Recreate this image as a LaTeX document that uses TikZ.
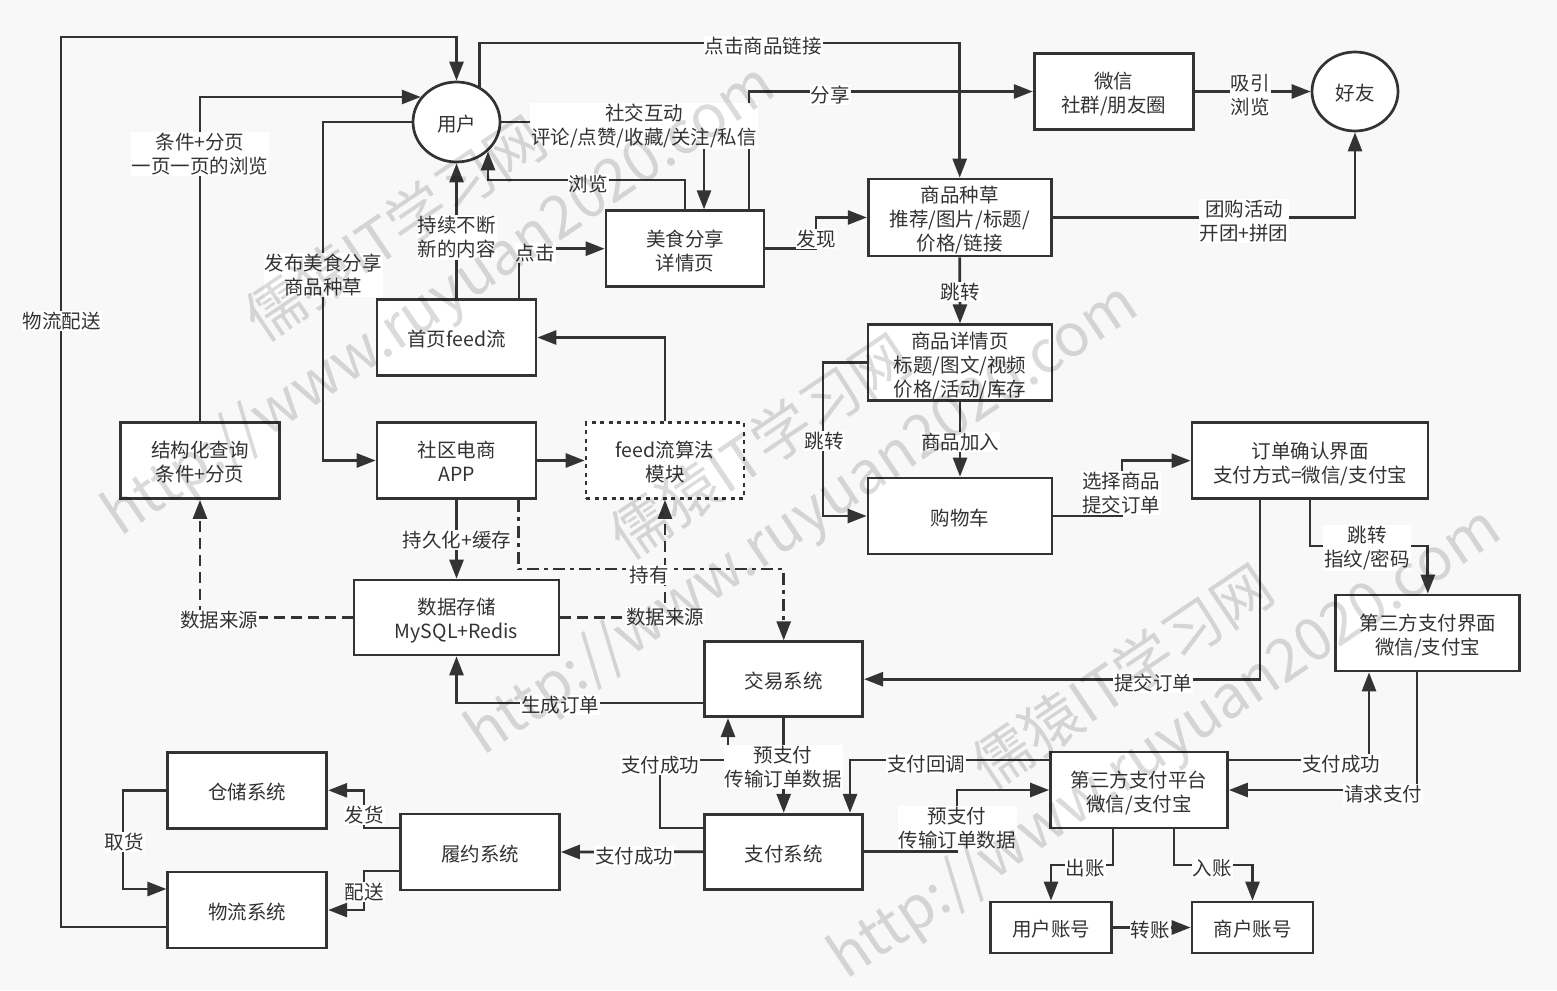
\documentclass[tikz,border=0pt]{standalone}
\usepackage{fontspec}
\setmainfont{Noto Sans CJK SC}
\usetikzlibrary{arrows.meta,shapes.geometric,calc}
\definecolor{lc}{HTML}{333333}
\definecolor{bgc}{HTML}{F8F8F8}
\newcommand\tx[1]{\raisebox{-4.5pt}[\height][\depth]{\begin{tabular}{@{}c@{}}#1\end{tabular}}}
\begin{document}
\begin{tikzpicture}[x=1pt,y=-1pt,
  every node/.style={font=\fontsize{19.5}{24}\selectfont, text=lc},
  box/.style={draw=lc, line width=2.7pt, fill=white, align=center, inner sep=0pt, rectangle},
  ell/.style={ellipse, draw=lc, line width=2.7pt, fill=white, inner sep=0pt},
  conn/.style={draw=lc, line width=2.7pt, -{Triangle[length=19pt,width=14pt]}},
  lab/.style={fill=white, inner sep=1pt, align=center},
  dsh/.style={dash pattern=on 11pt off 6pt},
  dshdot/.style={dash pattern=on 12pt off 5pt on 4pt off 5pt},
  dotbox/.style={dash pattern=on 4pt off 4.5pt},
  wm/.style={text=black, text opacity=0.14, font=\fontsize{59}{66}\selectfont, rotate=34, inner sep=0pt},
]
\fill[bgc] (0,0) rectangle (1557,990);
\useasboundingbox (0,0) rectangle (1557,990);

% nodes
\node[ell, minimum width=87pt, minimum height=80pt] (user) at (456.5,122) {\tx{用户}};
\node[ell, minimum width=86pt, minimum height=79pt] (friend) at (1355,91.5) {\tx{好友}};
\node[box, minimum width=159pt, minimum height=76pt] (wechat) at (1113.7,91.5) {\tx{微信\\社群/朋友圈}};
\node[box, minimum width=183pt, minimum height=77pt] (zc) at (959.7,217.5) {\tx{商品种草\\推荐/图片/标题/\\价格/链接}};
\node[box, minimum width=158pt, minimum height=76pt] (msfx) at (685,248.7) {\tx{美食分享\\详情页}};
\node[box, minimum width=159pt, minimum height=76pt] (feed) at (456.5,337.5) {\tx{首页feed流}};
\node[box, minimum width=184pt, minimum height=76pt] (spxq) at (960,362.8) {\tx{商品详情页\\标题/图文/视频\\价格/活动/库存}};
\node[box, minimum width=159pt, minimum height=76pt] (jgh) at (200,460.5) {\tx{结构化查询\\条件+分页}};
\node[box, minimum width=159pt, minimum height=76pt] (sqds) at (456.5,460.5) {\tx{社区电商\\APP}};
\node[box, dotbox, minimum width=158pt, minimum height=76pt] (algo) at (665,460.5) {\tx{feed流算法\\模块}};
\node[box, minimum width=236pt, minimum height=76pt] (ddqr) at (1310,460.7) {\tx{订单确认界面\\支付方式=微信/支付宝}};
\node[box, minimum width=184pt, minimum height=76pt] (gwc) at (960,516) {\tx{购物车}};
\node[box, minimum width=205pt, minimum height=75pt] (sjcc) at (456.5,617.5) {\tx{数据存储\\MySQL+Redis}};
\node[box, minimum width=184pt, minimum height=76pt] (dsfjm) at (1427.8,633) {\tx{第三方支付界面\\微信/支付宝}};
\node[box, minimum width=158pt, minimum height=75pt] (jy) at (783.7,679.2) {\tx{交易系统}};
\node[box, minimum width=159pt, minimum height=76pt] (cc) at (247.3,790.3) {\tx{仓储系统}};
\node[box, minimum width=177pt, minimum height=76pt] (dsfpt) at (1139,790) {\tx{第三方支付平台\\微信/支付宝}};
\node[box, minimum width=159pt, minimum height=76pt] (ly) at (480,852) {\tx{履约系统}};
\node[box, minimum width=158pt, minimum height=75pt] (zf) at (783.7,851.7) {\tx{支付系统}};
\node[box, minimum width=159pt, minimum height=76pt] (wl) at (247.3,910) {\tx{物流系统}};
\node[box, minimum width=121pt, minimum height=51pt] (yhzh) at (1051,927.5) {\tx{用户账号}};
\node[box, minimum width=121pt, minimum height=51pt] (shzh) at (1252.5,927.5) {\tx{商户账号}};

% connectors
\draw[conn] (wl.west |- 0,927) -- (61,927) -- (61,37) -| (user.north);
\draw[conn] (jgh.north) |- (user.145);
\draw[conn] (user.west) -- (323,122) |- (sqds.west);
\draw[conn] (feed.north) -- (user.south);
\draw[conn] (feed.north -| 519,0) |- (msfx.west);
\draw[conn] (msfx.north -| 685,0) |- (user.-43 |- 0,180) -- (user.-43);
\draw[conn] (user.east) -- (704,122) -- (msfx.north -| 704,0);
\draw[conn] (msfx.north -| 749,0) |- (wechat.west);
\draw[conn] (user.57) -- (user.57 |- 0,43) -| (zc.north);
\draw[conn] (msfx.east) -- (msfx.east -| 816,0) |- (zc.west);
\draw[conn] (wechat.east) -- (friend.west);
\draw[conn] (zc.east) -| (friend.south);
\draw[conn] (zc.south) -- (spxq.north);
\draw[conn] (spxq.south) -- (gwc.north);
\draw[conn] (spxq.west) -- (spxq.west -| 823,0) |- (gwc.west);
\draw[conn] (gwc.east) -- (gwc.east -| 1122,0) |- (ddqr.west);
\draw[conn] (ddqr.south -| 1260,0) |- (jy.east);
\draw[conn] (ddqr.south) -- (1310,546) -| (dsfjm.north);
\draw[conn] (sqds.east) -- (algo.west);
\draw[conn] (algo.north) |- (feed.east);
\draw[conn] (sqds.south) -- (sjcc.north);
\draw[conn, dshdot] (sqds.south -| 518.6,0) -- (518.6,569) -| (jy.north);
\draw[conn, dsh] (sjcc.west) -| (jgh.south);
\draw[conn, dsh] (sjcc.east) -| (algo.south);
\draw[conn] (jy.west |- 0,703) -| (sjcc.south);
\draw[conn] (jy.south) -- (zf.north);
\draw[conn] (zf.west |- 0,828) -- (660,828) |- (728,760) -- (jy.south -| 728,0);
\draw[conn] (dsfpt.west |- 0,760) -| (zf.north -| 850,0);
\draw[conn] (zf.east) -- (zf.east -| 957,0) |- (dsfpt.west);
\draw[conn] (dsfpt.east |- 0,760) -| (dsfjm.south -| 1369,0);
\draw[conn] (dsfjm.south -| 1417,0) |- (dsfpt.east);
\draw[conn] (dsfpt.south -| 1113,0) -- (1113,865) -| (yhzh.north);
\draw[conn] (dsfpt.south -| 1174,0) -- (1174,865) -| (shzh.north);
\draw[conn] (yhzh.east) -- (shzh.west);
\draw[conn] (zf.west) -- (ly.east);
\draw[conn] (ly.west |- 0,828) -- (364,828) |- (cc.east);
\draw[conn] (ly.west |- 0,871) -- (364,871) |- (wl.east);
\draw[conn] (cc.west) -- (cc.west -| 123,0) |- (wl.west |- 0,889);

% labels
\node[lab] (l1) at (62,321) {物流配送};
\node[lab] (l2) at (200,154) {条件+分页\\一页一页的浏览};
\node[lab] (l3) at (323,275) {发布美食分享\\商品种草};
\node[lab] (l4) at (456.5,237.5) {持续不断\\新的内容};
\node[lab] (l5) at (535,253) {点击};
\node[lab] (l6) at (588,184) {浏览};
\node[lab] (l7) at (644,126) {社交互动\\评论/点赞/收藏/关注/私信};
\node[lab] (l8) at (830,95) {分享};
\node[lab] (l9) at (763,46) {点击商品链接};
\node[lab] (l10) at (816,239) {发现};
\node[lab] (l11) at (1250,95) {吸引\\浏览};
\node[lab] (l12) at (1244,221) {团购活动\\开团+拼团};
\node[lab] (l13) at (960,292) {跳转};
\node[lab] (l14) at (960,442) {商品加入};
\node[lab] (l15) at (824,441) {跳转};
\node[lab] (l16) at (1121,493) {选择商品\\提交订单};
\node[lab] (l17) at (1153,683) {提交订单};
\node[lab] (l18) at (1367,548) {跳转\\指纹/密码};
\node[lab] (l21) at (457,540) {持久化+缓存};
\node[lab] (l22) at (649,575) {持有};
\node[lab] (l23) at (219,620) {数据来源};
\node[lab] (l24) at (665,617) {数据来源};
\node[lab] (l25) at (560,705) {生成订单};
\node[lab] (l26) at (783,767) {预支付\\传输订单数据};
\node[lab] (l27) at (660,765) {支付成功};
\node[lab] (l28) at (926,764) {支付回调};
\node[lab] (l29) at (957,828) {预支付\\传输订单数据};
\node[lab] (l30) at (1341,764) {支付成功};
\node[lab] (l31) at (1383,794) {请求支付};
\node[lab] (l32) at (1085,868) {出账};
\node[lab] (l33) at (1212,868) {入账};
\node[lab] (l34) at (1150,930) {转账};
\node[lab] (l35) at (634,856) {支付成功};
\node[lab] (l36) at (364,815) {发货};
\node[lab] (l37) at (364,892) {配送};
\node[lab] (l38) at (124,842) {取货};

% watermark
\node[wm] (wm1) at (395,228) {儒猿IT学习网};
\node[wm] (wm2) at (440,302) {http://www.ruyuan2020.com};
\node[wm] (wm3) at (760,446) {儒猿IT学习网};
\node[wm] (wm4) at (803,521) {http://www.ruyuan2020.com};
\node[wm] (wm5) at (1122,676) {儒猿IT学习网};
\node[wm] (wm6) at (1166,745) {http://www.ruyuan2020.com};
\end{tikzpicture}
\end{document}
